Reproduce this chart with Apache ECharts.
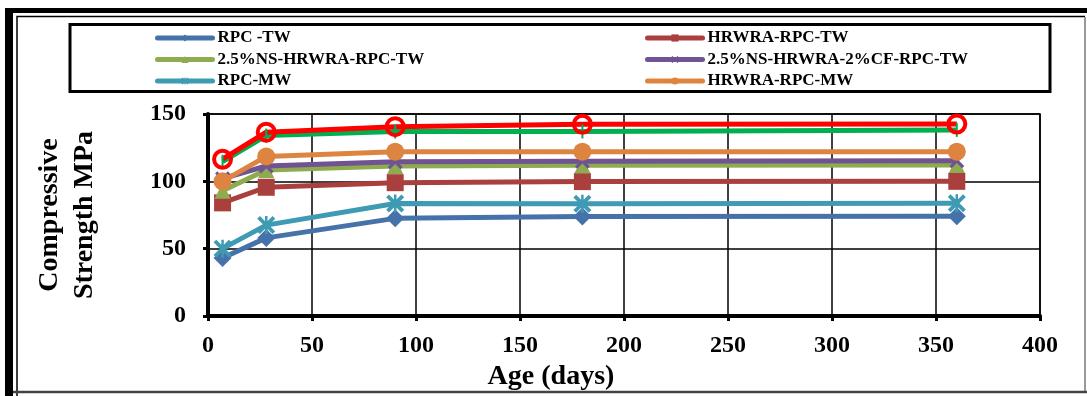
<!DOCTYPE html>
<html>
<head>
<meta charset="utf-8">
<script src="https://cdn.jsdelivr.net/npm/echarts@6/dist/echarts.min.js"></script>
<style>
  html, body { margin: 0; padding: 0; background: #fff; }
  #chart { width: 1087px; height: 396px; }
</style>
</head>
<body>
<div id="chart"></div>
<script>
// age in days
const ages = [7, 28, 90, 180, 360];

const rpcTW = [43, 58, 72.5, 73.8, 74];
const hrwraTW = [84, 95.6, 99, 99.8, 100];
const nsTW = [93, 108.5, 111.4, 112, 112.2];
const nsCfTW = [102, 111.4, 114.6, 115, 115.2];
const rpcMW = [50, 67.5, 83.5, 83.3, 83.7];
const hrwraMW = [100, 118.5, 122, 122, 122];
const greenS = [114.6, 134, 137, 137, 138.2];
const redS = [116.4, 136.5, 140.6, 142.4, 142.6];

const xTicks = { min: 0, max: 400, interval: 50 };
const yTicks = { min: 0, max: 150, interval: 50 };

const font = 'Liberation Serif, Times New Roman, serif';
const xMark = 'path://M0,1.5 L1.5,0 L5,3.5 L8.5,0 L10,1.5 L6.5,5 L10,8.5 L8.5,10 L5,6.5 L1.5,10 L0,8.5 L3.5,5 Z';
const starMark = 'path://M0,1.5 L1.5,0 L5,3.5 L8.5,0 L10,1.5 L6.5,5 L10,8.5 L8.5,10 L5,6.5 L1.5,10 L0,8.5 L3.5,5 Z M4.3,0 L5.7,0 L5.7,10 L4.3,10 Z';

function pts(vals) { return ages.map((a, i) => [a, vals[i]]); }

function line(name, vals, color, symbol, size, extra) {
  return Object.assign({
    name: name,
    type: 'line',
    data: pts(vals),
    symbol: symbol,
    symbolSize: size,
    showAllSymbol: true,
    lineStyle: { color: color, width: 5 },
    itemStyle: { color: color },
    emphasis: { disabled: true },
    animation: false
  }, extra || {});
}

const chart = echarts.init(document.getElementById('chart'));

const legendText = { fontFamily: font, fontWeight: 'bold', fontSize: 17, color: '#000', lineHeight: 18 };
const legendBase = {
  orient: 'vertical', top: 24,
  itemWidth: 55, itemHeight: 9, itemGap: 3.5,
  textStyle: legendText, selectedMode: false,
  lineStyle: { width: 5, cap: 'round' }
};

chart.setOption({
  backgroundColor: '#fff',
  animation: false,
  graphic: [
    // outer frame
    { type: 'rect', shape: { x: 5, y: 8, width: 1090, height: 5 }, style: { fill: '#000' } },
    { type: 'rect', shape: { x: 5, y: 8, width: 8, height: 400 }, style: { fill: '#000' } },
    { type: 'polyline', shape: { points: [[17, 400], [17, 16.5], [1085, 16.5]] }, style: { fill: null, stroke: '#000', lineWidth: 1.5 } },
    { type: 'line', shape: { x1: 1085, y1: 17, x2: 1085, y2: 392 }, style: { stroke: '#999', lineWidth: 2 } },
    { type: 'line', shape: { x1: 13, y1: 392, x2: 1087, y2: 392 }, style: { stroke: '#444', lineWidth: 2.5 } },
    // legend box
    { type: 'rect', shape: { x: 70, y: 24.5, width: 980, height: 67 }, style: { fill: null, stroke: '#000', lineWidth: 3 } }
  ],
  legend: [
    Object.assign({ data: ['RPC -TW', '2.5%NS-HRWRA-RPC-TW', 'RPC-MW'], left: 150 }, legendBase),
    Object.assign({ data: ['HRWRA-RPC-TW', '2.5%NS-HRWRA-2%CF-RPC-TW', 'HRWRA-RPC-MW'], left: 640 }, legendBase)
  ],
  grid: {
    left: 208, right: 47, top: 114, bottom: 80,
    show: true, borderColor: '#000', borderWidth: 1.5
  },
  xAxis: {
    type: 'value',
    min: xTicks.min, max: xTicks.max, interval: xTicks.interval,
    name: 'Age (days)',
    nameLocation: 'middle',
    nameGap: 47,
    nameTextStyle: { fontFamily: font, fontWeight: 'bold', fontSize: 28, color: '#000', padding: [0, 146, 0, 0] },
    axisLine: { onZero: false, lineStyle: { color: '#000', width: 4 } },
    axisTick: { show: true, length: 5, lineStyle: { color: '#000', width: 3 } },
    axisLabel: { fontFamily: font, fontWeight: 'bold', fontSize: 24, color: '#000', margin: 18 },
    splitLine: { show: true, lineStyle: { color: '#000', width: 1.5 } }
  },
  yAxis: {
    type: 'value',
    min: yTicks.min, max: yTicks.max, interval: yTicks.interval,
    name: 'Compressive\nStrength MPa',
    nameLocation: 'middle',
    nameRotate: 90,
    nameGap: 106,
    nameTextStyle: { fontFamily: font, fontWeight: 'bold', fontSize: 28, color: '#000', lineHeight: 35 },
    axisLine: { onZero: false, lineStyle: { color: '#000', width: 4 } },
    axisTick: { show: true, length: 5, lineStyle: { color: '#000', width: 3 } },
    axisLabel: { fontFamily: font, fontWeight: 'bold', fontSize: 24, color: '#000', margin: 22 },
    splitLine: { show: true, lineStyle: { color: '#000', width: 1.5 } }
  },
  series: [
    line('RPC -TW', rpcTW, '#4672AA', 'diamond', 18),
    line('HRWRA-RPC-TW', hrwraTW, '#A9403E', 'rect', 17),
    line('2.5%NS-HRWRA-RPC-TW', nsTW, '#8FAB4F', 'triangle', 16),
    line('2.5%NS-HRWRA-2%CF-RPC-TW', nsCfTW, '#705392', xMark, 15),
    line('RPC-MW', rpcMW, '#3F9BB3', starMark, 18),
    line('HRWRA-RPC-MW', hrwraMW, '#DD8440', 'circle', 18),
    line('Series7', greenS, '#00B050', 'rect', [2, 14]),
    line('Series8', redS, '#FF0000', 'circle', 17, {
      itemStyle: { color: 'rgba(255,255,255,0)', borderColor: '#FF0000', borderWidth: 4 }
    })
  ]
});
</script>
</body>
</html>
